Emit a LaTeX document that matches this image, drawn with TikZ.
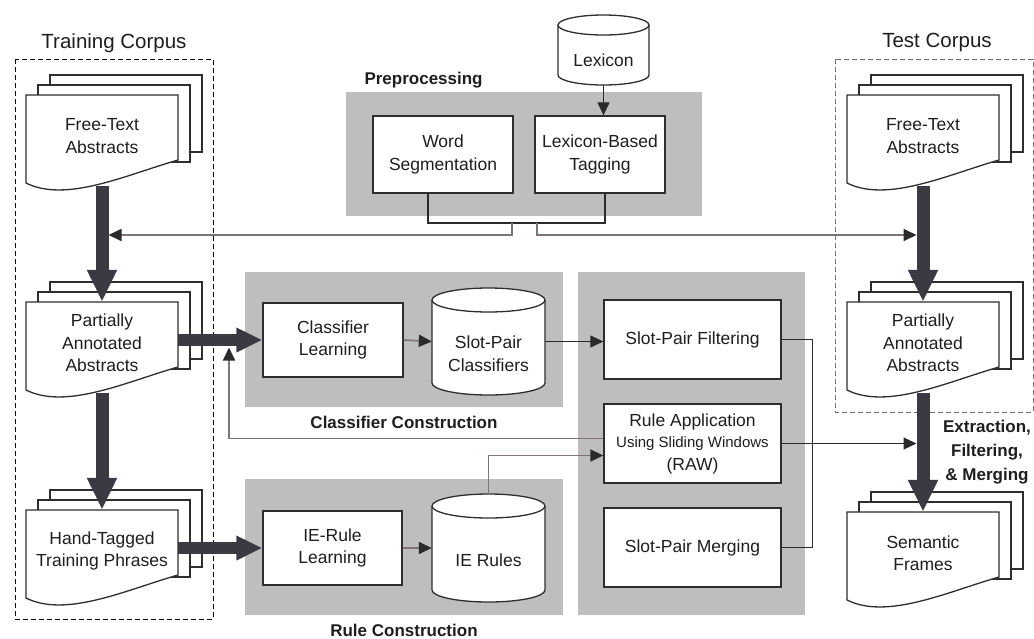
\documentclass[tikz,border=0pt]{standalone}
\usepackage{fontspec}
\setmainfont{Liberation Sans}
\usetikzlibrary{arrows.meta,calc,fit}
\definecolor{boxgray}{HTML}{BEBEBE}
\definecolor{boxline}{HTML}{2E2E2E}
\definecolor{arrowcol}{HTML}{3A3A42}
\definecolor{conncol}{HTML}{2A2A2A}
\definecolor{gconncol}{HTML}{7E7676}
\definecolor{txtcol}{HTML}{1E1E1E}
\definecolor{dashgray}{HTML}{707070}

\newcommand\docstack[4]{%
  \path[docs] (#2+24,#3-20) rectangle ++(152,77);
  \path[docs] (#2+12,#3-10) rectangle ++(152,77);
  \path[docs] (#2,#3) -- ++(152,0) -- ++(0,65) .. controls +(-52,15) and +(40,20) .. (#2,#3+88) -- cycle;
  \node[inner sep=0pt, fit={(#2,#3) (#2+152,#3+88)}] (#1) {};
  \node[txt] (#1-t) at (#2+76,#3+41) {#4};
}
\newcommand\cyl[7]{%
  \pgfmathsetmacro\cylrx{(#3-#2)/2}
  \pgfmathsetmacro\cylcx{(#3+#2)/2}
  \path[docs] (#2,#4+#6) -- (#2,#5-#6) arc[start angle=180,end angle=360,x radius=\cylrx pt,y radius=#6 pt] -- (#3,#4+#6) arc[start angle=0,end angle=180,x radius=\cylrx pt,y radius=#6 pt] -- cycle;
  \draw[docs, fill=none] (#2,#4+#6) arc[start angle=180,end angle=360,x radius=\cylrx pt,y radius=#6 pt];
  \node[inner sep=0pt, fit={(#2,#4) (#3,#5)}] (#1) {};
  \node[txt] (#1-t) at ({\cylcx},{(#4+#5)/2+#6}) {#7};
}

\begin{document}
\begin{tikzpicture}[x=1pt,y=-1pt,
  txt/.style={font=\fontsize{17.5}{22.5}\selectfont, align=center, text=txtcol},
  pbox/.style={draw=boxline, line width=1.3pt, fill=white, inner sep=0pt, txt},
  blbl/.style={font=\bfseries\fontsize{17}{24}\selectfont, align=center, text=txtcol},
  clbl/.style={font=\fontsize{20.5}{24}\selectfont, text=txtcol},
  grp/.style={fill=boxgray, draw=none},
  docs/.style={draw=boxline, line width=1.3pt, fill=white},
  thickv/.style={draw=arrowcol, line width=13pt, -{Triangle[length=32pt,width=28pt]}},
  thickh/.style={draw=arrowcol, line width=12pt, -{Triangle[length=26pt,width=23pt]}},
  conn/.style={draw=conncol, line width=1.1pt},
  gconn/.style={draw=gconncol, line width=1.7pt},
  arr/.style={-{Triangle[length=13pt,width=12pt,color=conncol]}},
  dbox/.style={dash pattern=on 5pt off 3pt, line width=1pt}
]
\useasboundingbox (0,0) rectangle (1034,638);

% corpus frames
\node[clbl] (trainlbl) at (114,43) {Training Corpus};
\draw[dbox, draw=black] (15,59) rectangle (213,619);
\node[clbl] (testlbl) at (937,42) {Test Corpus};
\draw[dbox, draw=dashgray] (835,59) rectangle (1033,412);

% group backgrounds
\path[grp] (346,92) rectangle (702,216);
\node[blbl, anchor=west] (prelbl) at (361,80) {Preprocessing};
\path[grp] (245,272) rectangle (563,407);
\node[blbl] (cclbl) at (404,422) {Classifier Construction};
\path[grp] (245,479) rectangle (563,615);
\node[blbl, anchor=base, inner sep=0pt] (rclbl) at (404,636) {Rule Construction};
\path[grp] (578,272) rectangle (805,615);

% process boxes
\node[pbox, fit={(373,116) (513,193)}] (wseg) {};
\node[txt] at (wseg) {Word\\Segmentation};
\node[pbox, fit={(535,116) (665,193)}] (lbt) {};
\node[txt] at (lbt) {Lexicon-Based\\Tagging};
\node[pbox, fit={(263,303) (403,377)}] (clearn) {};
\node[txt] at (clearn) {Classifier\\Learning};
\node[pbox, fit={(263,511) (402,585)}] (ierl) {};
\node[txt] at (ierl) {IE-Rule\\Learning};
\node[pbox, fit={(604,300) (781,379)}] (spf) {};
\node[txt] at (spf) {Slot-Pair Filtering};
\node[pbox, fit={(604,404) (781,483)}] (raw) {};
\node[txt] at (raw) {Rule Application\\[-1pt]{\fontsize{15}{20}\selectfont Using Sliding Windows}\\(RAW)};
\node[pbox, fit={(604,508) (781,587)}] (spm) {};
\node[txt] at (spm) {Slot-Pair Merging};

% cylinders
\cyl{lex}{558}{649}{15}{85}{10}{Lexicon}
\cyl{spc}{432}{545}{288}{395}{12}{Slot-Pair\\Classifiers}
\cyl{ier}{432}{545}{494}{602}{12}{IE Rules}

% document stacks
\docstack{trainFT}{26}{95}{Free-Text\\Abstracts}
\docstack{trainPA}{26}{302}{Partially\\Annotated\\Abstracts}
\docstack{trainHT}{26}{510}{Hand-Tagged\\Training Phrases}
\docstack{testFT}{847}{95}{Free-Text\\Abstracts}
\docstack{testPA}{847}{302}{Partially\\Annotated\\Abstracts}
\docstack{testSF}{847}{512}{Semantic\\Frames}

\node[blbl] (extlbl) at (987,452) {Extraction,\\Filtering,\\\& Merging};

% coordinates for connector ends
\coordinate (wsb) at ($(wseg.south)+(-15,0)$);
\coordinate (lbb) at ($(lbt.south)+(5,0)$);
\coordinate (ja) at (512,223);
\coordinate (jb) at (537,223);
\coordinate (tA) at (108.5,235);
\coordinate (tB) at (916.5,235);
\coordinate (tC) at (916.5,444);
\coordinate (fb) at (229,347.5);

% thin connectors
\draw[conn, arr] (lex.south) -- (lex.south |- lbt.north);
\draw[conn] (wsb) |- (ja) -| (lbb);
\draw[gconn, arr] (ja) |- (tA);
\draw[gconn, arr] (jb) |- (tB);
\draw[gconn, arr] (clearn.east) -- (spc.west);
\draw[conn, arr] (spc.east) -- (spc.east -| spf.west);
\draw[gconn, arr] (ierl.east) -- (ier.west);
\draw[conn] (spf.east) -- ++(31,0) |- (spm.east);
\draw[conn, arr] (raw.east) -- (raw.east -| tC);
\draw[gconn, arr] ([yshift=5pt]raw.west) -| (fb);
\draw[gconn, arr] (ier.north) |- ([yshift=-12pt]raw.west);

% thick flow arrows
\draw[thickv] ([yshift=-3pt]trainFT.south) -- (trainPA.north);
\draw[thickv] ([yshift=-3pt]trainPA.south) -- (trainHT.north);
\draw[thickv] ([yshift=-3pt]testFT.south) -- (testPA.north);
\draw[thickv] ([yshift=-3pt]testPA.south) -- (testSF.north);
\draw[thickh] (trainPA.east |- clearn.west) -- (clearn.west);
\draw[thickh] (trainHT.east |- ierl.west) -- (ierl.west);
\end{tikzpicture}
\end{document}
